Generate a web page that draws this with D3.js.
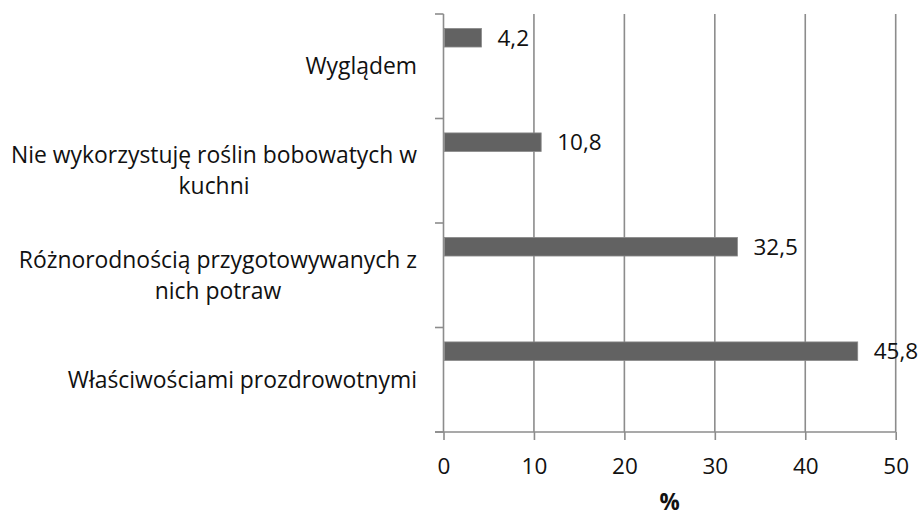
<!DOCTYPE html>
<html><head><meta charset="utf-8">
<script src="https://cdn.jsdelivr.net/npm/d3@7"></script>
<style>
html,body{margin:0;padding:0;background:#fff;}
svg{display:block;font-family:"Open Sans",sans-serif;}
</style></head>
<body><svg id="chart" width="920" height="517"></svg>
<script>
const categories = ["Wyglądem","Nie wykorzystuję roślin bobowatych w kuchni","Różnorodnością przygotowywanych z nich potraw","Właściwościami prozdrowotnymi"];
const categoryLines = [["Wyglądem"],["Nie wykorzystuję roślin bobowatych w","kuchni"],["Różnorodnością przygotowywanych z","nich potraw"],["Właściwościami prozdrowotnymi"]];
const values = [4.2, 10.8, 32.5, 45.8];
const xTicks = [0,10,20,30,40,50];
const xTitle = "%";

const svg = d3.select("#chart");
const x = d3.scaleLinear().domain([0,50]).range([443.5,895.7]);
const y = d3.scaleBand().domain(categories).range([14,432]).padding(0);
const axisColor = "#8c8c8c";
const fsLab = 22.9;
const fsNum = 22.5;
const loc = d3.formatLocale({decimal:",",thousands:" ",grouping:[3],currency:["","zł"]});
const fmt = loc.format(".1f");

svg.append("g").selectAll("line").data(xTicks.slice(1)).join("line")
  .attr("x1",d=>x(d)).attr("x2",d=>x(d)).attr("y1",y.range()[0]).attr("y2",y.range()[1])
  .attr("stroke",axisColor).attr("stroke-width",1.6);

const xa = svg.append("g").attr("transform",`translate(0,${y.range()[1]})`)
  .call(d3.axisBottom(x).tickValues(xTicks).tickSize(8).tickSizeOuter(0).tickPadding(18).tickFormat(d=>d));
xa.select(".domain").remove();
xa.selectAll(".tick line").attr("stroke",axisColor).attr("stroke-width",1.6);
xa.selectAll(".tick text").attr("font-size",fsNum).attr("fill","#111").attr("font-family","Open Sans");
svg.append("line").attr("x1",435).attr("x2",x(50)).attr("y1",y.range()[1]).attr("y2",y.range()[1])
  .attr("stroke",axisColor).attr("stroke-width",1.6);

svg.append("line").attr("x1",x(0)).attr("x2",x(0)).attr("y1",y.range()[0]).attr("y2",y.range()[1])
  .attr("stroke",axisColor).attr("stroke-width",1.6);
const edges = categories.map(c=>y(c)).concat([y.range()[1]]);
svg.append("g").selectAll("line").data(edges).join("line")
  .attr("x1",435).attr("x2",x(0)).attr("y1",d=>d).attr("y2",d=>d)
  .attr("stroke",axisColor).attr("stroke-width",1.6);

const bw = y.bandwidth();
svg.append("g").selectAll("rect").data(values).join("rect")
  .attr("x",x(0)+1).attr("y",(d,i)=>y(categories[i])+bw*0.138)
  .attr("width",d=>x(d)-x(0)-1).attr("height",bw*0.178)
  .attr("fill","#626262").attr("stroke","#8a8a8a").attr("stroke-width",0.8);

svg.append("g").selectAll("text").data(values).join("text")
  .attr("x",d=>x(d)+16).attr("y",(d,i)=>y(categories[i])+bw*0.138+bw*0.089)
  .attr("dy","0.35em").attr("font-size",fsNum).attr("fill","#111").text(d=>fmt(d));

const lh = 31;
categoryLines.forEach((lines,i)=>{
  const cy = y(categories[i]) + bw/2;
  const g = svg.append("g");
  const texts = g.selectAll("text").data(lines).join("text")
    .attr("font-size",fsLab).attr("fill","#111").attr("text-anchor","middle")
    .attr("y",(d,j)=>cy + (j-(lines.length-1)/2)*lh).attr("dy","0.35em").text(d=>d);
  let maxW = 0; texts.each(function(){maxW=Math.max(maxW,this.getComputedTextLength());});
  texts.attr("x",417 - maxW/2);
});

svg.append("text").attr("x",(x(0)+x(50))/2).attr("y",510)
  .attr("text-anchor","middle").attr("font-size",fsNum).attr("font-weight","bold").attr("fill","#111").text(xTitle);
</script></body></html>
